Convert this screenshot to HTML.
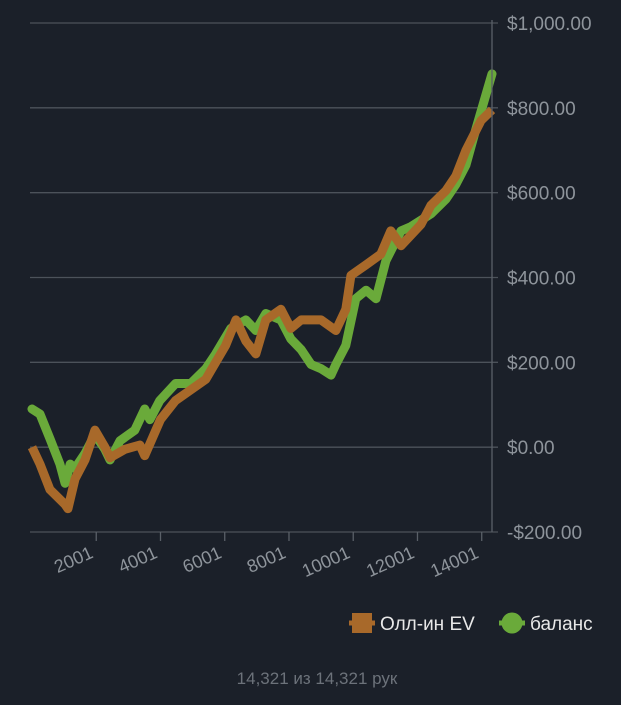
<!DOCTYPE html>
<html><head><meta charset="utf-8">
<style>
html,body{margin:0;padding:0;background:#1b2029;}
body{width:621px;height:700px;overflow:hidden;font-family:"Liberation Sans","Noto Sans CJK SC",sans-serif;}
svg text{font-family:"Liberation Sans","Noto Sans CJK SC",sans-serif;}
</style></head>
<body>
<svg id="chart" width="621" height="700" viewBox="0 0 621 700">
<rect width="621" height="700" fill="#1b2029"/>
<g id="grid"></g>
<g id="series"></g>
<g id="axes"></g>
<g>
 <g>
  <line x1="349" y1="623" x2="375" y2="623" stroke="#a8692a" stroke-width="5"/>
  <rect x="352" y="613" width="20" height="20" fill="#a8692a"/>
  <text x="380" y="630" font-size="19" fill="#e8e8e8">Олл-ин EV</text>
 </g>
 <g>
  <line x1="499" y1="623" x2="525" y2="623" stroke="#6aaa3a" stroke-width="5"/>
  <circle cx="512" cy="623" r="10.5" fill="#6aaa3a"/>
  <text x="530" y="630" font-size="19" fill="#e8e8e8">баланс</text>
 </g>
</g>
<text x="317" y="684" font-size="17" fill="#6c727a" text-anchor="middle">14,321 из 14,321 рук</text>
</svg>
<script>
const yTicks=[-200,0,200,400,600,800,1000];
const yTickLabels=["-$200.00","$0.00","$200.00","$400.00","$600.00","$800.00","$1,000.00"];
const xTicks=[2001,4001,6001,8001,10001,12001,14001];
const evHands=[1,250,560,1030,1120,1340,1650,1960,2270,2430,2890,3360,3510,4000,4470,4940,5410,5720,6030,6350,6660,6970,7280,7750,8060,8380,9000,9460,9770,9930,10400,10860,11170,11490,12110,12420,12890,13200,13510,13980,14321];
const evValues=[0,-40,-100,-135,-145,-75,-30,40,0,-25,-5,5,-20,65,110,135,160,200,240,300,250,220,300,325,280,300,300,275,325,405,430,455,510,475,525,570,605,640,700,770,795];
const balHands=[1,250,560,870,1030,1190,1340,1650,1960,2270,2430,2740,3200,3510,3670,3980,4470,4940,5410,5720,6190,6660,6970,7280,7750,8060,8380,8690,9000,9310,9460,9770,10080,10400,10710,11020,11490,11800,12420,12890,13200,13510,13820,14321];
const balValues=[90,78,20,-40,-85,-40,-50,-15,30,-5,-30,15,40,90,65,110,150,150,185,220,280,300,275,315,300,255,230,195,185,170,195,240,350,370,350,440,510,520,550,585,620,665,750,880];

const X0=1,X1=14321,PX0=32,PX1=492;
const Y0=-200,Y1=1000,PY0=532,PY1=23;
function xScale(h){return PX0+(h-X0)/(X1-X0)*(PX1-PX0);}
function yScale(v){return PY0+(v-Y0)/(Y1-Y0)*(PY1-PY0);}
const NS="http://www.w3.org/2000/svg";
function mk(tag,attrs,parent){const e=document.createElementNS(NS,tag);for(const k in attrs)e.setAttribute(k,attrs[k]);parent.appendChild(e);return e;}
const grid=document.getElementById('grid'),axes=document.getElementById('axes'),series=document.getElementById('series');
yTicks.forEach((v,i)=>{
 const y=yScale(v);
 const l=mk('line',{x1:30,x2:498,y1:y,y2:y,stroke:'#4c525a','stroke-width':1.3},grid);
 
 
 const t=mk('text',{x:507,y:y+7,'font-size':19,fill:'#8e949b'},axes);
 t.textContent=yTickLabels[i];
 
 
});
const ax=mk('line',{x1:492,x2:492,y1:20,y2:532,stroke:'#5a6068','stroke-width':1.3},axes);


xTicks.forEach(h=>{
 const x=xScale(h);
 const tk=mk('line',{x1:x,x2:x,y1:532,y2:541,stroke:'#5a6068','stroke-width':1.3},axes);
 
 
 const t=mk('text',{x:x-2,y:557,'font-size':18,fill:'#8e949b','text-anchor':'end',transform:'rotate(-24 '+(x-2)+' 557)'},axes);
 t.textContent=String(h);
 
 
});
function linePath(hs,vs){let d='';for(let i=0;i<hs.length;i++){const x=xScale(hs[i]),y=yScale(vs[i]);d+=(i===0?'M':' L')+x+' '+y;}return d;}
const bal=mk('path',{d:linePath(balHands,balValues),fill:'none',stroke:'#6aaa3a','stroke-width':9,'stroke-linejoin':'round','stroke-linecap':'round'},series);


const ev=mk('path',{d:linePath(evHands,evValues),fill:'none',stroke:'#a8692a','stroke-width':9,'stroke-linejoin':'round','stroke-linecap':'butt'},series);


</script>
</body></html>
